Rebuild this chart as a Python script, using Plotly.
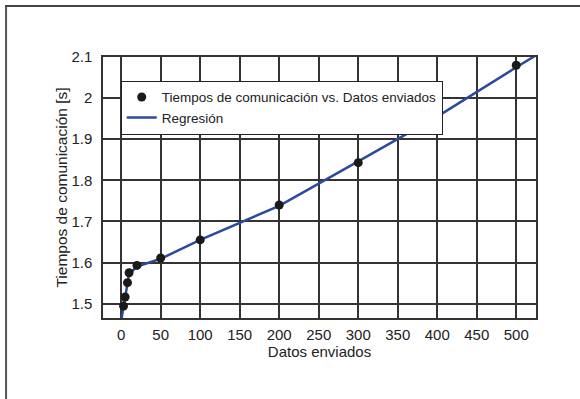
import plotly.graph_objects as go

# ---- data ----
datos_x = [3, 5, 8, 10, 20, 50, 100, 200, 300, 400, 500]
tiempos_y = [1.494, 1.516, 1.551, 1.575, 1.593, 1.611, 1.655, 1.740, 1.843, 1.955, 2.080]

reg_x = [0, 3, 5, 8, 10, 20, 50, 100, 200, 300, 400, 500, 530]
reg_y = [1.458, 1.492, 1.515, 1.550, 1.572, 1.590, 1.609, 1.655, 1.738, 1.846, 1.955, 2.075, 2.110]

x_ticks = [0, 50, 100, 150, 200, 250, 300, 350, 400, 450, 500]
y_ticks = [1.5, 1.6, 1.7, 1.8, 1.9, 2.0, 2.1]
y_tick_text = ["1.5", "1.6", "1.7", "1.8", "1.9", "2", "2.1"]

W, H = 580, 399
ML, MR, MT, MB = 103.3, 44.3, 57.3, 81.3
PW, PH = W - ML - MR, H - MT - MB

def px(x):
    return (x - ML) / PW

def py(y):
    return (H - MB - y) / PH

FONT = "Liberation Sans, Arial, Helvetica, sans-serif"
TXT = "#222222"
GRID = "#333333"

fig = go.Figure()
fig.add_trace(go.Scatter(
    x=reg_x, y=reg_y, mode="lines", name="Regresión",
    line=dict(color="#2B4A9E", width=2.5), legendrank=2,
))
fig.add_trace(go.Scatter(
    x=datos_x, y=tiempos_y, mode="markers",
    name="Tiempos de comunicación vs. Datos enviados",
    marker=dict(color="#1a1a1a", size=9), legendrank=1,
))

fig.update_layout(
    width=W, height=H,
    margin=dict(l=ML, r=MR, t=MT, b=MB, autoexpand=False),
    paper_bgcolor="white", plot_bgcolor="white",
    font=dict(family=FONT, color=TXT, size=15),
    showlegend=True,
    legend=dict(
        x=px(121), y=py(81), xanchor="left", yanchor="top",
        bgcolor="white", bordercolor="#222222", borderwidth=1,
        font=dict(size=13.5, color=TXT, family=FONT),
        tracegroupgap=0, itemwidth=30,
    ),
    xaxis=dict(
        range=[-23, 525], tickvals=x_ticks, showgrid=True, gridcolor=GRID, gridwidth=1.5,
        showline=True, linecolor=GRID, linewidth=1.5, mirror=True, zeroline=False,
        ticks="", ticklabelstandoff=2, tickfont=dict(size=15),
        title=dict(text="Datos enviados", standoff=0, font=dict(size=15)),
    ),
    yaxis=dict(
        range=[1.465, 2.1], tickvals=y_ticks, ticktext=y_tick_text,
        showgrid=True, gridcolor=GRID, gridwidth=1.5,
        showline=True, linecolor=GRID, linewidth=1.5, mirror=True, zeroline=False,
        ticks="", ticklabelstandoff=6, tickfont=dict(size=15),
        title=dict(text="Tiempos de comunicación [s]", standoff=0, font=dict(size=15.5)),
    ),
    shapes=[
        dict(type="line", xref="paper", yref="paper", x0=px(6.5), x1=px(6.5),
             y0=py(5.5), y1=py(H + 5), line=dict(color="#555555", width=2)),
        dict(type="line", xref="paper", yref="paper", x0=px(5.5), x1=px(W + 5),
             y0=py(6.5), y1=py(6.5), line=dict(color="#444444", width=2)),
    ],
)

fig.write_html(
    "out.html",
    config={"displayModeBar": False},
    post_script="document.body.style.margin='0';document.body.style.overflow='hidden';",
)
